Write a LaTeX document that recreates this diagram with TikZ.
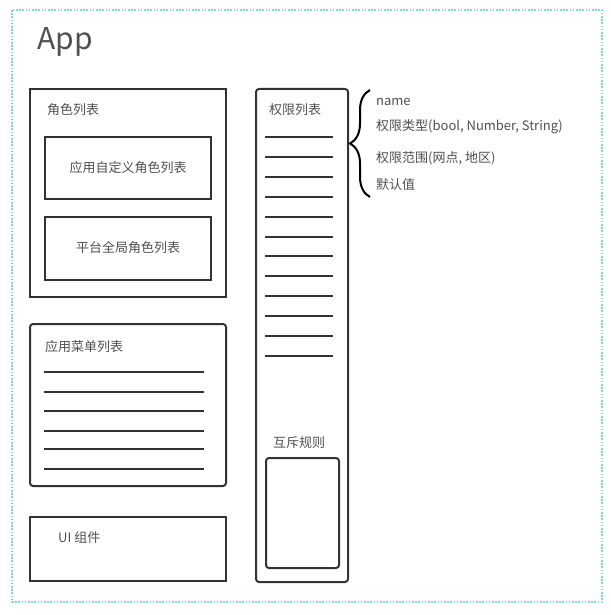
\documentclass[tikz,border=0pt]{standalone}
\usepackage{fontspec}
\setmainfont{Noto Sans CJK SC}
\usetikzlibrary{decorations.pathreplacing}
\definecolor{stroke}{HTML}{333333}
\definecolor{txt}{HTML}{505050}
\definecolor{dotc}{HTML}{7FD6D6}
\tikzset{
  box/.style={draw=stroke, line width=2pt},
  rbox/.style={draw=stroke, line width=2pt, rounded corners=3pt},
  lbl/.style={anchor=west, inner sep=0pt, text=txt, font=\fontsize{13}{15}\selectfont},
  clbl/.style={inner sep=0pt, text=txt, font=\fontsize{13}{15}\selectfont},
  rule/.style={draw=stroke, line width=2pt},
}
\begin{document}
\begin{tikzpicture}[x=1pt,y=-1pt]
\useasboundingbox (0,0) rectangle (610,615);
\fill[white] (0,0) rectangle (610,615);
% outer dotted frame
\draw[dotc, line width=2pt, dash pattern=on 1.6pt off 1.6pt] (12,10) rectangle (602,602);
\node[anchor=west, inner sep=0pt, text=txt, font=\fontsize{30}{34}\selectfont] (app) at (37,42) {App};

% role list
\draw[box] (30,89) rectangle (226,297);
\node[lbl] (roles) at (47,110) {角色列表};
\draw[box] (45,137) rectangle (211,199);
\node[clbl] (custom) at (128,168) {应用自定义角色列表};
\draw[box] (45,217) rectangle (211,280);
\node[clbl] (global) at (128,248) {平台全局角色列表};

% menu list
\draw[rbox] (30,324) rectangle (226,486);
\node[lbl] (menu) at (45,347) {应用菜单列表};
\foreach \y in {372,392,411,431,449,469}
  \draw[rule] (44,\y) -- (204,\y);

% UI
\draw[box] (30,517) rectangle (226,581);
\node[lbl] (ui) at (58,538) {UI 组件};

% permission list
\draw[rbox] (256,89) rectangle (348,582);
\node[lbl] (perm) at (269,110) {权限列表};
\foreach \i in {0,...,11}
  \draw[rule] (265,{137+\i*19.9}) -- (333,{137+\i*19.9});
\node[clbl] (mutex) at (299,443) {互斥规则};
\draw[rbox] (266,458) rectangle (339,568);

% brace and attributes
\coordinate (bt) at (370,90);
\coordinate (bb) at (370,197);
\draw[stroke, line width=2pt, decorate, decoration={brace, amplitude=20pt, aspect=0.5}] (bb) -- (bt);
\node[lbl] (a1) at (376,102) {name};
\node[lbl] (a2) at (376,127) {权限类型(bool, Number, String)};
\node[lbl] (a3) at (376,158) {权限范围(网点, 地区)};
\node[lbl] (a4) at (376,185) {默认值};
\end{tikzpicture}
\end{document}
